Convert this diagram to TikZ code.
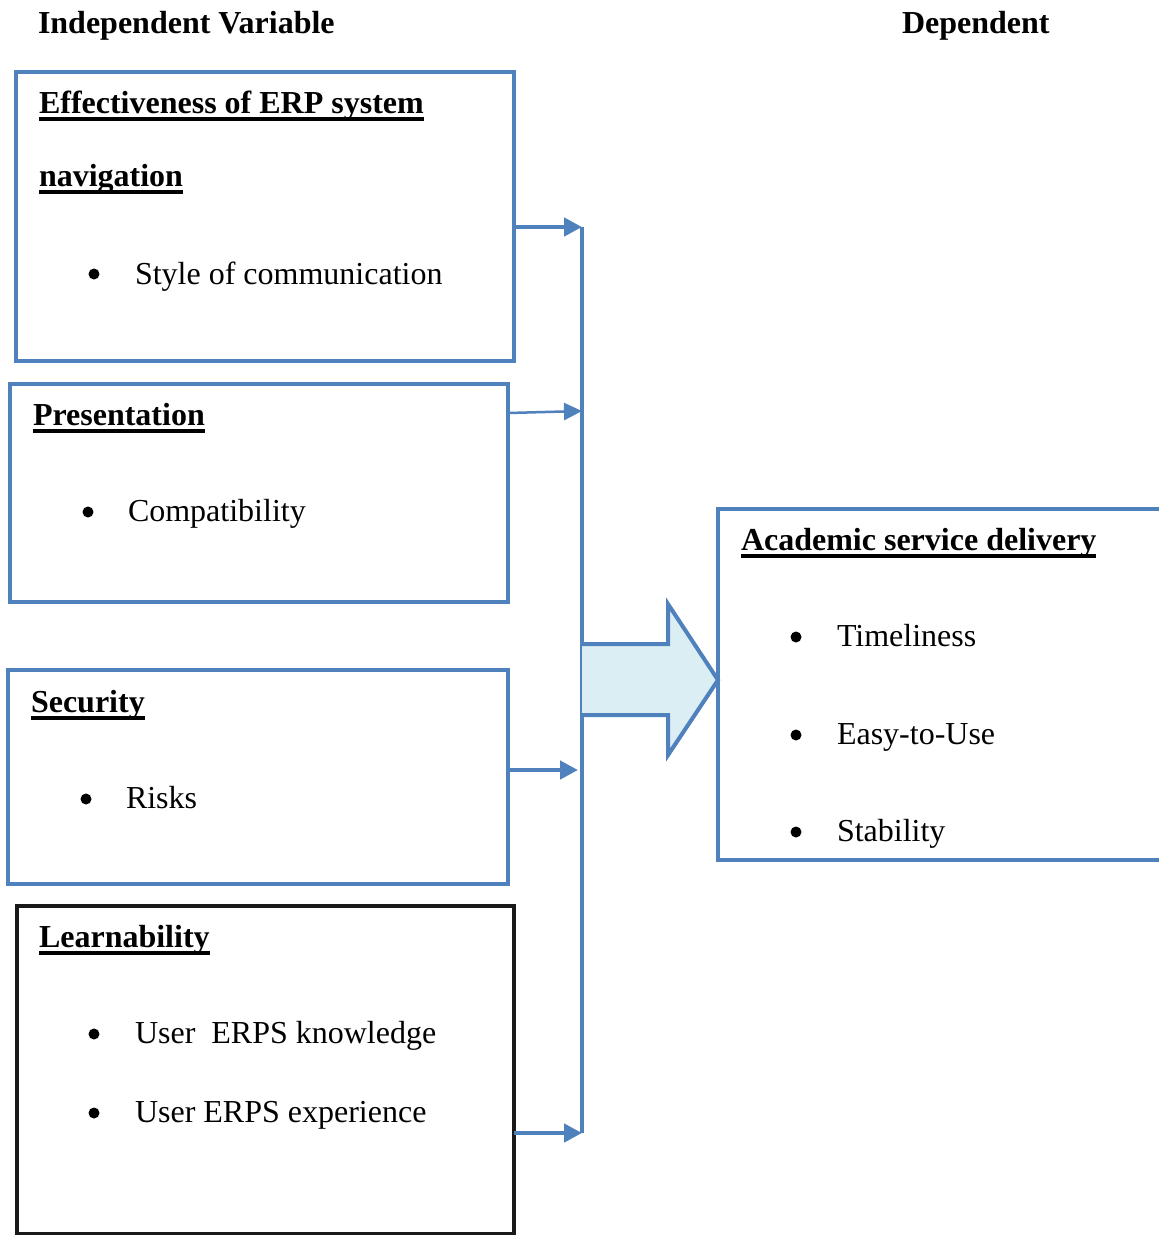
\documentclass[tikz,border=0pt]{standalone}
\usepackage{fontspec}
\setmainfont{Liberation Serif}
\newcommand\myul[1]{\setbox0\hbox{#1}\rlap{\vrule height -4pt depth 8pt width \wd0}\box0}
\usetikzlibrary{arrows.meta}
\definecolor{ofblue}{HTML}{4F81BD}
\definecolor{oflight}{HTML}{DAEEF3}
\begin{document}
\begin{tikzpicture}[x=1pt,y=-1pt,
  every node/.style={font=\fontsize{32}{38}\selectfont, inner sep=0pt, outer sep=0pt},
  bluebox/.style={draw=ofblue, line width=4pt, rectangle},
  blackbox/.style={draw=black!90, line width=4pt, rectangle},
  lbl/.style={anchor=base west},
  ttl/.style={anchor=base west, font=\fontsize{32}{38}\selectfont\bfseries},
  bul/.style={circle, fill=black, minimum size=11pt},
  conn/.style={draw=ofblue, line width=4.5pt, -{Triangle[length=18pt,width=18pt]}},
  thinconn/.style={draw=ofblue, line width=2.5pt, -{Triangle[length=18pt,width=17pt]}}
]
\useasboundingbox (0,0) rectangle (1159,1235);
\clip (0,0) rectangle (1159,1235);
\fill[white] (0,0) rectangle (1159,1235);

% headings
\node[ttl] (hiv) at (38,33) {Independent Variable};
\node[ttl] (hdv) at (902,33) {Dependent};

% boxes
\node[bluebox, minimum width=498pt, minimum height=289pt] (b1) at (265,216.5) {};
\node[bluebox, minimum width=498pt, minimum height=218pt] (b2) at (259,493) {};
\node[bluebox, minimum width=500pt, minimum height=214pt] (b3) at (258,777) {};
\node[blackbox, minimum width=497pt, minimum height=328pt] (b4) at (265.5,1069.5) {};
\node[bluebox, minimum width=482pt, minimum height=351pt] (rb) at (959,684.5) {};

% box 1 text
\node[ttl] (t1a) at (39,113) {\myul{Effectiveness of ERP system}};
\node[ttl] (t1b) at (39,186) {\myul{navigation}};
\node[bul] (u1) at (94,274) {};
\node[lbl] (i1) at (135,284) {Style of communication};

% box 2 text
\node[ttl] (t2) at (33,425) {\myul{Presentation}};
\node[bul] (u2) at (88,512) {};
\node[lbl] (i2) at (128,521) {Compatibility};

% box 3 text
\node[ttl] (t3) at (31,712) {\myul{Security}};
\node[bul] (u3) at (86,799) {};
\node[lbl] (i3) at (126,808) {Risks};

% box 4 text
\node[ttl] (t4) at (39,947) {\myul{Learnability}};
\node[bul] (u4a) at (94,1034) {};
\node[lbl] (i4a) at (135,1043) {User~~ERPS knowledge};
\node[bul] (u4b) at (94,1113) {};
\node[lbl] (i4b) at (135,1122) {User ERPS experience};

% right box text
\node[ttl] (tr) at (741,550) {\myul{Academic service delivery}};
\node[bul] (ur1) at (796,637) {};
\node[lbl] (ir1) at (837,646) {Timeliness};
\node[bul] (ur2) at (796,735) {};
\node[lbl] (ir2) at (837,744) {Easy-to-Use};
\node[bul] (ur3) at (796,832) {};
\node[lbl] (ir3) at (837,841) {Stability};

% connectors
\coordinate (j1) at (582,227);
\coordinate (j2) at (582,411);
\coordinate (j3) at (578,770);
\coordinate (j4) at (582,1133);
\draw[draw=ofblue, line width=4pt] (j1) -- (j4);
\draw[conn] (b1.east |- j1) -- (j1);
\draw[thinconn] ([yshift=-29pt]b2.north east) -- (j2);
\draw[conn] (b3.east |- j3) -- (j3);
\draw[conn] (b4.east |- j4) -- (j4);

% big block arrow
\draw[draw=ofblue, fill=oflight, line width=4pt, line join=miter]
  (582,644) -- (668,644) -- (668,604) -- (rb.west |- 0,680) -- (668,755) -- (668,715) -- (582,715);
\end{tikzpicture}
\end{document}
